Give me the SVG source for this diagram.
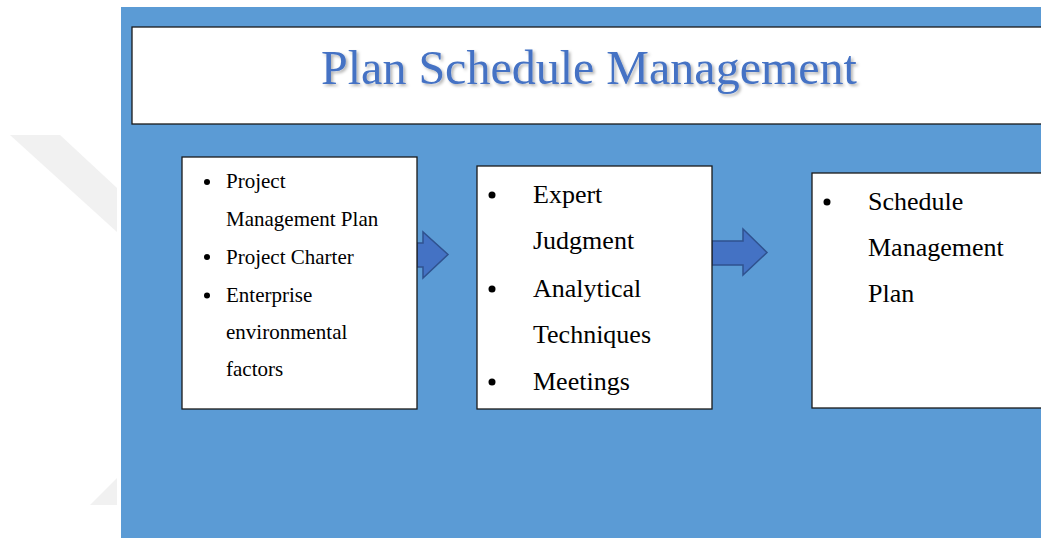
<svg xmlns="http://www.w3.org/2000/svg" width="1041" height="538" viewBox="0 0 1041 538">
  <defs>
    <filter id="ts" x="-10%" y="-30%" width="120%" height="160%">
      <feDropShadow dx="2" dy="2" stdDeviation="1.5" flood-color="#000" flood-opacity="0.3"/>
    </filter>
    <style>
      .box { fill: #ffffff; stroke: #1a1a1a; stroke-width: 1.3; }
      .t1 { font-family: "Liberation Serif", "Times New Roman", serif; font-size: 21px; fill: #000; }
      .t2 { font-family: "Liberation Serif", "Times New Roman", serif; font-size: 26px; fill: #000; }
      .title { font-family: "Liberation Serif", "Times New Roman", serif; font-size: 48px; fill: #4472C4; }
      .arrow { fill: #4472C4; stroke: #2F528F; stroke-width: 1.5; stroke-linejoin: miter; }
      .wm { fill: #F1F1F1; }
    </style>
  </defs>
  <rect x="0" y="0" width="1041" height="538" fill="#ffffff"/>
  <g id="watermark">
    <polygon class="wm" points="10,135 60,135 117,188 117,232"/>
    <polygon class="wm" points="90,505 117,478 117,505"/>
  </g>
  <rect id="panel" x="121" y="7" width="920" height="531" fill="#5B9BD5"/>
  <g id="title">
    <rect class="box" x="132" y="27" width="915" height="97"/>
    <text class="title" x="589" y="84" text-anchor="middle" filter="url(#ts)">Plan Schedule Management</text>
  </g>
  <g id="connectors">
    <polygon class="arrow" points="417,243 423,243 423,232 448,254.5 423,278 423,267 417,267"/>
    <polygon class="arrow" points="712,241 743,241 743,229 767,252.5 743,275 743,265 712,265"/>
  </g>
  <g id="inputs">
    <rect class="box" x="182" y="157" width="235" height="252"/>
    <circle cx="207" cy="182" r="3"/>
    <circle cx="207" cy="257" r="3"/>
    <circle cx="207" cy="295.5" r="3"/>
    <text class="t1" x="226" y="188">Project</text>
    <text class="t1" x="226" y="226">Management Plan</text>
    <text class="t1" x="226" y="264">Project Charter</text>
    <text class="t1" x="226" y="302">Enterprise</text>
    <text class="t1" x="226" y="339">environmental</text>
    <text class="t1" x="226" y="376">factors</text>
  </g>
  <g id="tools">
    <rect class="box" x="477" y="166" width="235" height="243"/>
    <circle cx="492" cy="195" r="3.5"/>
    <circle cx="492" cy="289" r="3.5"/>
    <circle cx="492" cy="382" r="3.5"/>
    <text class="t2" x="533" y="203">Expert</text>
    <text class="t2" x="533" y="249">Judgment</text>
    <text class="t2" x="533" y="297">Analytical</text>
    <text class="t2" x="533" y="343">Techniques</text>
    <text class="t2" x="533" y="390">Meetings</text>
  </g>
  <g id="outputs">
    <rect class="box" x="812" y="173" width="240" height="235"/>
    <circle cx="827" cy="202" r="3.5"/>
    <text class="t2" x="868" y="210">Schedule</text>
    <text class="t2" x="868" y="256">Management</text>
    <text class="t2" x="868" y="302">Plan</text>
  </g>
</svg>
